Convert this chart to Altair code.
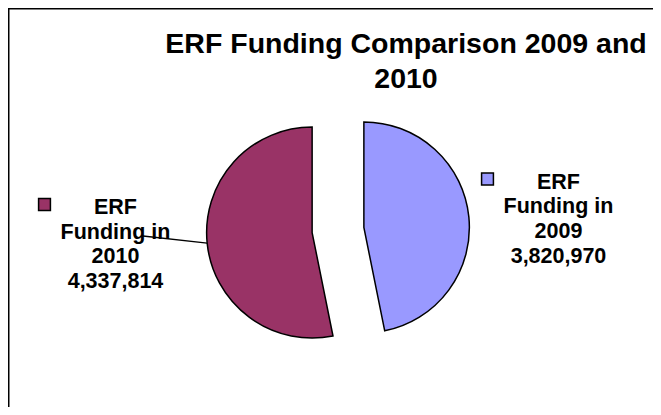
import altair as alt
import pandas as pd

# ---- data ----
categories = ["ERF Funding in 2009", "ERF Funding in 2010"]
years = ["2009", "2010"]
values = [3820970, 4337814]
colors = ["#9999FF", "#993366"]
title_lines = ["ERF Funding Comparison 2009 and", "2010"]

# ---- layout (positions / sizes only) ----
W, H = 645, 399
CX, CY = 330, 222          # pie centre
R = 105.5                  # pie radius
EXPLODE = 26               # explosion distance
label_pos = {"2009": (550.5, 180.5), "2010": (107.5, 206)}
leader_start = {"2010": (135, 228)}
FONT = "Liberation Sans"

total = sum(values)
rows = []
for i, (c, y, v) in enumerate(zip(categories, years, values)):
    lx, ly = label_pos[y]
    ls = leader_start.get(y)
    rows.append({
        "idx": i, "category": c, "year": y, "value": v,
        "label": "ERF\nFunding in\n" + y + "\n" + f"{v:,}",
        "lx": lx, "ly": ly,
        "kx": lx - 71, "ky": ly - 9.5,
        "has_leader": ls is not None,
        "sx": ls[0] if ls else None, "sy": ls[1] if ls else None,
    })
df = pd.DataFrame(rows)

color_scale = alt.Scale(domain=categories, range=colors)

base = alt.Chart(df).transform_window(
    cum="sum(value)", sort=[{"field": "idx"}], frame=[None, 0]
).transform_calculate(
    s0="datum.cum - datum.value",
    mid=f"2*PI*(datum.cum - datum.value/2)/{total}",
).transform_calculate(
    cx=f"{CX} + {EXPLODE}*sin(datum.mid)",
    cy=f"{CY} - {EXPLODE}*cos(datum.mid)",
).transform_calculate(
    ex=f"datum.cx + {R}*sin(datum.mid)",
    ey=f"datum.cy - {R}*cos(datum.mid)",
)

arcs = base.mark_arc(radius=R, stroke="black", strokeWidth=1.5).encode(
    theta=alt.Theta("s0:Q", scale=alt.Scale(domain=[0, total], range=[0, 6.283185307179586])),
    theta2=alt.Theta2("cum:Q"),
    color=alt.Color("category:N", scale=color_scale, legend=None),
    x=alt.X("cx:Q", scale=None),
    y=alt.Y("cy:Q", scale=None),
)

leader = base.transform_filter("datum.has_leader").mark_rule(
    color="black", strokeWidth=1.3
).encode(
    x=alt.X("sx:Q", scale=None), y=alt.Y("sy:Q", scale=None),
    x2="ex:Q", y2="ey:Q",
)

labels = base.mark_text(
    font=FONT, fontSize=21.5, fontWeight="bold", align="center",
    baseline="alphabetic", lineBreak="\n", lineHeight=24.7, color="black",
).encode(
    x=alt.X("lx:Q", scale=None), y=alt.Y("ly:Q", scale=None),
    text="label:N",
)

keys = base.mark_square(size=140, stroke="black", strokeWidth=1.5, opacity=1).encode(
    x=alt.X("kx:Q", scale=None), y=alt.Y("ky:Q", scale=None),
    fill=alt.Color("category:N", scale=color_scale, legend=None),
)

title = alt.Chart(pd.DataFrame({"t": [title_lines]})).mark_text(
    font=FONT, fontSize=28.5, fontWeight="bold", align="center",
    baseline="alphabetic", lineHeight=35, color="black",
).encode(
    x=alt.value(398), y=alt.value(44.5), text="t",
)

frame_left = alt.Chart(pd.DataFrame({"a": [0]})).mark_rule(color="black", strokeWidth=2).encode(
    x=alt.value(0.5), y=alt.value(0), y2=alt.value(H)
)
frame_top = alt.Chart(pd.DataFrame({"a": [0]})).mark_rule(color="black", strokeWidth=2).encode(
    x=alt.value(0), x2=alt.value(W), y=alt.value(0.5)
)

chart = alt.layer(frame_left, frame_top, title, leader, arcs, labels, keys).properties(
    width=W, height=H, autosize=alt.AutoSizeParams(type="none"), padding=0,
    background="white",
).configure_view(stroke=None)

chart.save("out.html", embed_options={"renderer": "svg", "actions": False})
